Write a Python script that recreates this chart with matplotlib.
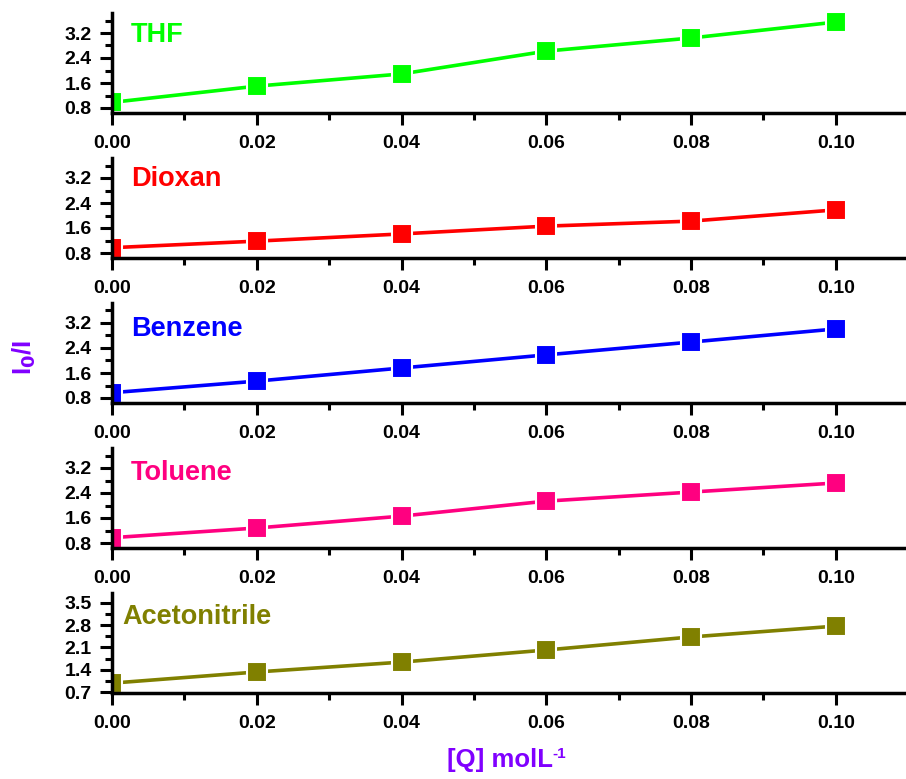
import numpy as np
import matplotlib
matplotlib.use("Agg")
import matplotlib.pyplot as plt
from matplotlib.ticker import MultipleLocator

plt.rcParams['font.family'] = ['Liberation Sans', 'DejaVu Sans']
plt.rcParams['font.weight'] = 'bold'

# quencher concentration, mol/L
conc = [0.00, 0.02, 0.04, 0.06, 0.08, 0.10]

solvents = ["THF", "Dioxan", "Benzene", "Toluene", "Acetonitrile"]
thf = [0.98, 1.50, 1.89, 2.62, 3.04, 3.55]
dioxan = [0.97, 1.18, 1.41, 1.66, 1.82, 2.18]
benzene = [0.97, 1.34, 1.76, 2.18, 2.59, 3.01]
toluene = [0.97, 1.28, 1.66, 2.14, 2.43, 2.72]
acetonitrile = [0.98, 1.33, 1.64, 2.02, 2.43, 2.77]
ratios = [thf, dioxan, benzene, toluene, acetonitrile]

colors = ["#00FF00", "#FF0000", "#0000FF", "#FF0080", "#808000"]
label_y = [0.78, 0.79, 0.74, 0.75, 0.76]

fig = plt.figure(figsize=(9.06, 7.79), dpi=100)
W, H = 906.0, 779.0
axis_px = [113, 258, 403, 548, 693]   # pixel rows of each x-axis

for i, (name, vals, col) in enumerate(zip(solvents, ratios, colors)):
    bottom = 1 - axis_px[i] / H
    ax = fig.add_axes([112 / W, bottom, 794 / W, 100 / H])
    ax.plot(conc, vals, color=col, lw=2.6, marker='s', ms=14,
            mfc=col, mec='white', mew=1.5)
    ax.set_xlim(0, 0.1097)
    if name == "Acetonitrile":
        ax.set_ylim(0.67, 3.81)
        ax.yaxis.set_major_locator(MultipleLocator(0.7))
        ax.yaxis.set_minor_locator(MultipleLocator(0.35))
    else:
        ax.set_ylim(0.64, 3.84)
        ax.yaxis.set_major_locator(MultipleLocator(0.8))
        ax.yaxis.set_minor_locator(MultipleLocator(0.4))
    ax.xaxis.set_major_locator(MultipleLocator(0.02))
    ax.xaxis.set_minor_locator(MultipleLocator(0.01))
    ax.xaxis.set_major_formatter(plt.FuncFormatter(lambda v, p: f"{v:.2f}"))
    ax.yaxis.set_major_formatter(plt.FuncFormatter(lambda v, p: f"{v:.1f}"))
    for s in ['top', 'right']:
        ax.spines[s].set_visible(False)
    for s in ['left', 'bottom']:
        ax.spines[s].set_linewidth(2.5)
    ax.tick_params(which='major', direction='out', length=8.5, width=2.2)
    ax.tick_params(which='minor', direction='out', length=5, width=2.2)
    ax.tick_params(axis='x', which='major', labelsize=14, pad=7)
    ax.tick_params(axis='y', which='major', labelsize=14, pad=6)
    for lab in ax.get_xticklabels() + ax.get_yticklabels():
        lab.set_fontweight('bold')
    ax.text(0.024 if name != "Acetonitrile" else 0.013, label_y[i], name,
            transform=ax.transAxes, color=col, fontsize=19.5,
            fontweight='bold', va='center', ha='left')

fig.text(24 / W, 1 - 357 / H, r"I$_\mathbf{0}$/I", rotation=90, color="#8000FF",
         fontsize=18.5, fontweight='bold', ha='center', va='center')
fig.text(553 / W, 1 - 767 / H, "[Q] molL", color="#8000FF",
         fontsize=18.5, fontweight='bold', ha='right', va='baseline')
fig.text(552 / W, 1 - 758 / H, "-1", color="#8000FF",
         fontsize=11, fontweight='bold', ha='left', va='baseline')

fig.savefig("out.png", dpi=100)
